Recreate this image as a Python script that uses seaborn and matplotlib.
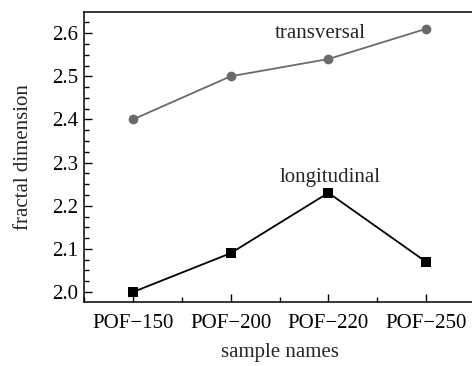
import matplotlib
matplotlib.use("Agg")
import matplotlib.pyplot as plt
import seaborn as sns
import pandas as pd
from matplotlib.ticker import MultipleLocator

samples = ["POF\u2212150", "POF\u2212200", "POF\u2212220", "POF\u2212250"]
transversal = [2.40, 2.50, 2.54, 2.61]
longitudinal = [2.00, 2.09, 2.23, 2.07]

sns.set_style("ticks")
plt.rcParams['font.family'] = ['Liberation Serif', 'DejaVu Serif']

df_t = pd.DataFrame({"sample": samples, "value": transversal})
df_l = pd.DataFrame({"sample": samples, "value": longitudinal})

fig = plt.figure(figsize=(4.72, 3.66), dpi=100)
ax = fig.add_axes([84/472, 64/366, 391/472, 290/366])

sns.lineplot(data=df_t, x="sample", y="value", ax=ax, color="#6a6a6a",
             marker="o", markersize=7, markeredgewidth=0, linewidth=1.3, sort=False)
sns.lineplot(data=df_l, x="sample", y="value", ax=ax, color="black",
             marker="s", markersize=6.5, markeredgewidth=0, linewidth=1.3, sort=False)

ax.set_xlim(-0.5, 3.5)
ax.set_ylim(1.977, 2.649)
ax.set_yticks([2.0, 2.1, 2.2, 2.3, 2.4, 2.5, 2.6])
ax.set_yticklabels(["2.0", "2.1", "2.2", "2.3", "2.4", "2.5", "2.6"])
ax.yaxis.set_minor_locator(MultipleLocator(0.025))
ax.xaxis.set_minor_locator(MultipleLocator(0.5))

ax.tick_params(which="both", direction="in", colors="black", labelsize=15, width=1)
ax.tick_params(which="major", length=6)
ax.tick_params(which="minor", length=3.5)
ax.tick_params(axis="x", pad=9)
ax.tick_params(axis="y", pad=4)

for s in ax.spines.values():
    s.set_linewidth(1.1)
    s.set_color("black")

ax.set_xlabel("sample names", fontsize=15, labelpad=7)
ax.set_ylabel("fractal dimension", fontsize=15, labelpad=14)

ax.text(1.92, 2.60, "transversal", fontsize=15, ha="center", va="center")
ax.text(2.02, 2.265, "longitudinal", fontsize=15, ha="center", va="center")

fig.savefig("out.png", dpi=100)
